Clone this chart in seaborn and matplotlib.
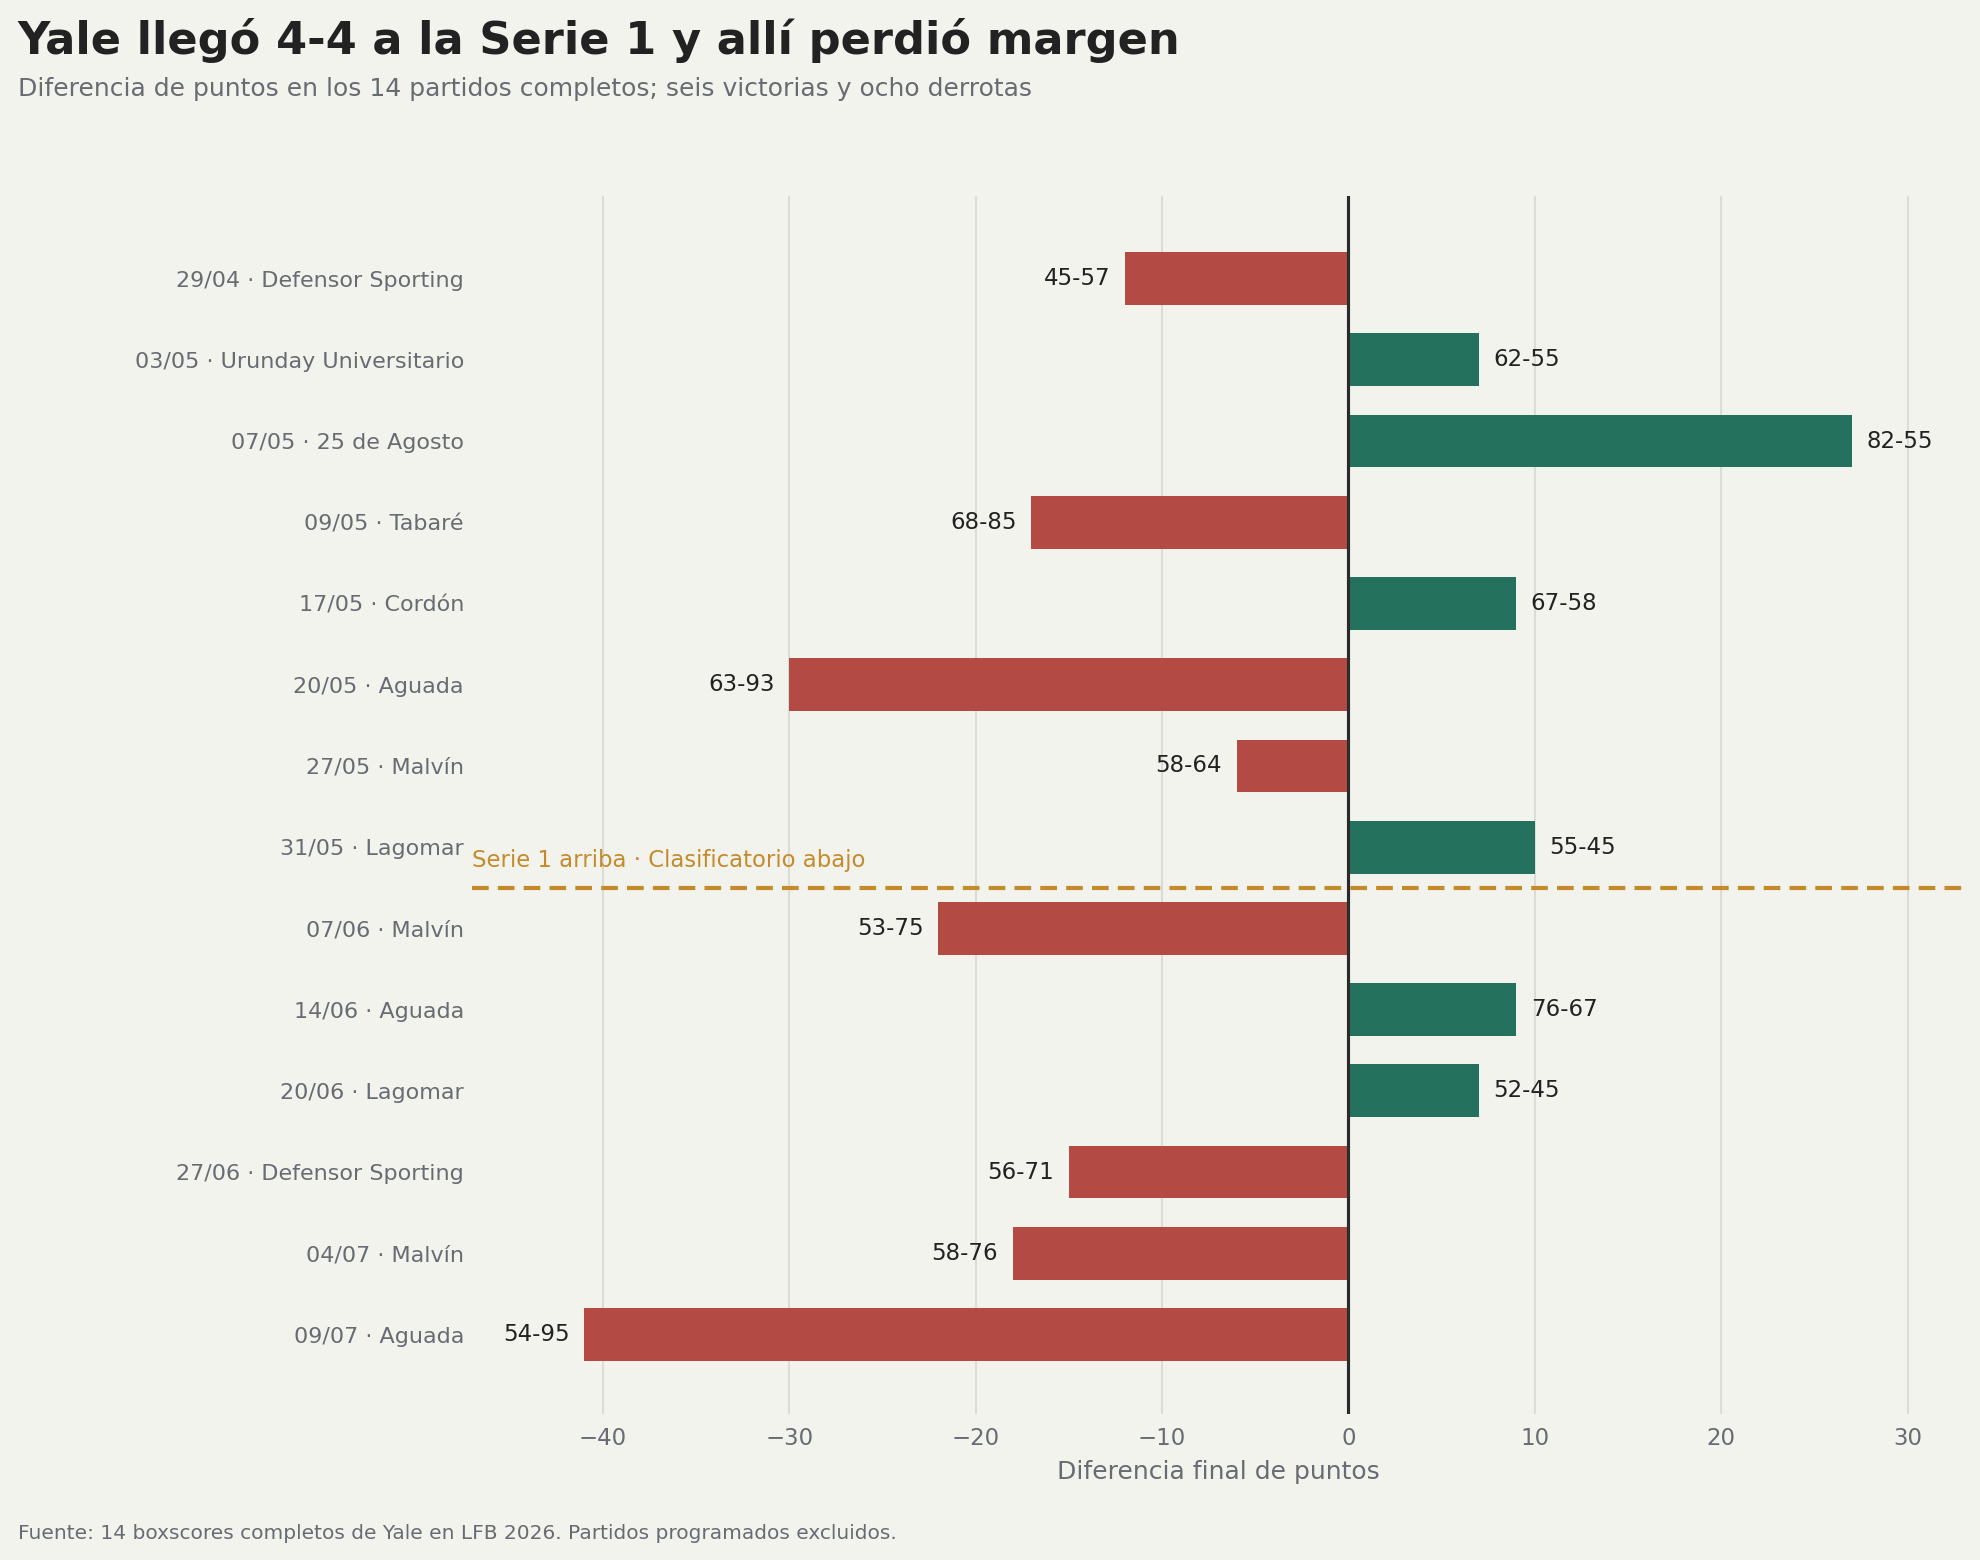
import pandas as pd
import seaborn as sns
import matplotlib.pyplot as plt

sns.set_style("whitegrid")
plt.rcParams.update({
    "font.family": ["DejaVu Sans"],
})

BG = "#f3f3ee"
RED = "#b44a44"
GREEN = "#24725e"
GOLD = "#c58a2a"
GRAY = "#676c72"

fechas = ["29/04", "03/05", "07/05", "09/05", "17/05", "20/05", "27/05",
          "31/05", "07/06", "14/06", "20/06", "27/06", "04/07", "09/07"]
rivales = ["Defensor Sporting", "Urunday Universitario", "25 de Agosto", "Tabaré",
           "Cordón", "Aguada", "Malvín", "Lagomar", "Malvín", "Aguada",
           "Lagomar", "Defensor Sporting", "Malvín", "Aguada"]
puntos_yale = [45, 62, 82, 68, 67, 63, 58, 55, 53, 76, 52, 56, 58, 54]
puntos_rival = [57, 55, 55, 85, 58, 93, 64, 45, 75, 67, 45, 71, 76, 95]

df = pd.DataFrame({
    "partido": [f"{f} · {r}" for f, r in zip(fechas, rivales)],
    "yale": puntos_yale,
    "rival": puntos_rival,
})
df["diff"] = df["yale"] - df["rival"]
df["resultado"] = ["V" if d > 0 else "D" for d in df["diff"]]

fig = plt.figure(figsize=(13.2, 10.4), dpi=150, facecolor=BG)
ax = fig.add_axes([0.2385, 0.0935, 0.7532, 0.781])
ax.set_facecolor(BG)

sns.barplot(data=df, y="partido", x="diff", hue="resultado", orient="h",
            palette={"V": GREEN, "D": RED}, dodge=False, width=0.65,
            legend=False, ax=ax, saturation=1, linewidth=0)

ax.set_xlim(-47, 33)
ax.set_ylim(13.98, -1.02)
ax.set_xticks([-40, -30, -20, -10, 0, 10, 20, 30])
ax.set_xticklabels(["\u221240", "\u221230", "\u221220", "\u221210", "0", "10", "20", "30"])
ax.grid(axis="x", color="#dcdcd6", linewidth=1)
ax.grid(axis="y", visible=False)
for s in ax.spines.values():
    s.set_visible(False)
ax.tick_params(axis="both", length=0, colors=GRAY)
ax.tick_params(axis="y", labelsize=10.7, pad=4)
ax.tick_params(axis="x", labelsize=11, pad=6)
ax.set_ylabel("")
ax.set_xlabel("Diferencia final de puntos", fontsize=12, color=GRAY, labelpad=5)

ax.axvline(0, color="#2b2b2b", linewidth=1.5, zorder=3)

for i, row in df.iterrows():
    lab = f"{row['yale']}-{row['rival']}"
    if row["diff"] > 0:
        ax.annotate(lab, (row["diff"], i), xytext=(7, 0), textcoords="offset points",
                    ha="left", va="center", fontsize=11, color="#222222")
    else:
        ax.annotate(lab, (row["diff"], i), xytext=(-7, 0), textcoords="offset points",
                    ha="right", va="center", fontsize=11, color="#222222")

ax.axhline(7.5, color=GOLD, linewidth=2, linestyle=(0, (4, 2.2)), zorder=4)
ax.text(-47, 7.3, "Serie 1 arriba · Clasificatorio abajo", color=GOLD,
        fontsize=10.9, ha="left", va="bottom")

fig.text(0.009, 0.974, "Yale llegó 4-4 a la Serie 1 y allí perdió margen",
         fontsize=21.5, fontweight="bold", color="#222222", ha="left", va="center")
fig.text(0.009, 0.943, "Diferencia de puntos en los 14 partidos completos; seis victorias y ocho derrotas",
         fontsize=12, color=GRAY, ha="left", va="center")
fig.text(0.009, 0.017, "Fuente: 14 boxscores completos de Yale en LFB 2026. Partidos programados excluidos.",
         fontsize=9.7, color=GRAY, ha="left", va="center")

fig.savefig("out.png", dpi=150, facecolor=BG)
